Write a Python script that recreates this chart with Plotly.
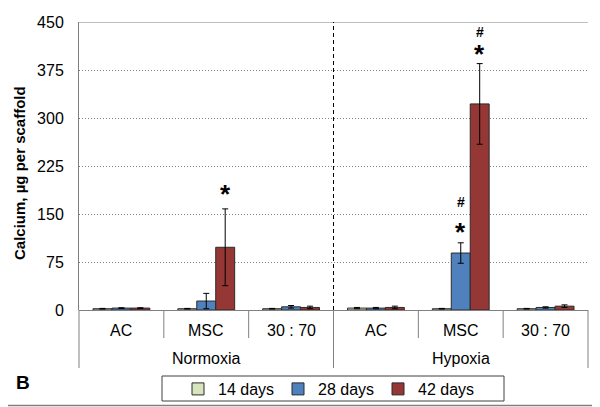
import plotly.graph_objects as go

categories = ["AC", "MSC", "30 : 70", "AC", "MSC", "30 : 70"]
groups = ["Normoxia", "Hypoxia"]
series_names = ["14 days", "28 days", "42 days"]
vals_14 = [2, 2, 2, 3, 2, 2]
vals_28 = [3, 14, 5, 3, 89, 4]
vals_42 = [3, 98, 4, 4, 322, 6]
err_14 = [0.5, 0.5, 0.5, 1, 0.5, 0.5]
err_28 = [0.5, 12, 2, 1, 16, 1]
err_42 = [0.5, 60, 2, 2, 63, 2]
# significance markers: (category index, series index, symbol, value position)
marks = [(1, 2, "*", 184), (4, 1, "*", 125), (4, 1, "#", 169), (4, 2, "*", 403), (4, 2, "#", 434)]
y_ticks = [0, 75, 150, 225, 300, 375, 450]

colors = ["#D7E4BD", "#4F81BD", "#953735"]
bargap = 0.33
n = len(categories)
xs = list(range(n))

fig = go.Figure()
for name, vals, errs, col in zip(series_names, [vals_14, vals_28, vals_42], [err_14, err_28, err_42], colors):
    fig.add_trace(go.Bar(
        x=xs, y=vals, name=name,
        marker=dict(color=col, line=dict(color="#2b2b2b", width=1)),
        error_y=dict(type="data", array=errs, color="black", thickness=1, width=3),
    ))

font = "Liberation Sans, Arial, sans-serif"
OFF = 8  # page body margin of the html page
PAGE_W, PAGE_H = 600, 407
W, H = PAGE_W - OFF, PAGE_H - OFF
# plot area in page pixels
PL, PR, PT, PB = 79, 588, 22, 310
L, T = PL - OFF, PT - OFF
R, B = W - (PR - OFF), H - (PB - OFF)
pw, ph = W - L - R, H - T - B


def px_x(p):
    return (p - OFF - L) / pw


def px_y(p):
    return (T + ph - (p - OFF)) / ph


shapes = []
ann = []
# top border line
shapes.append(dict(type="line", xref="paper", yref="y", x0=0, x1=1, y0=450, y1=450,
                   line=dict(color="#808080", width=1)))
# dashed divider between groups
shapes.append(dict(type="line", xref="x", yref="y", x0=2.5, x1=2.5, y0=0, y1=450,
                   line=dict(color="black", width=1, dash="4px,3px")))
# category separators below axis
for i in range(n + 1):
    xp = i / n
    long_ = (i % 3 == 0)
    y1 = -(58 if long_ else 28) / ph
    shapes.append(dict(type="line", xref="paper", yref="paper", x0=xp, x1=xp, y0=0, y1=y1,
                       line=dict(color="#808080", width=1)))
# bottom line of figure
shapes.append(dict(type="line", xref="paper", yref="paper", x0=px_x(0), x1=px_x(PAGE_W),
                   y0=px_y(405.5), y1=px_y(405.5), line=dict(color="#808080", width=1.5)))
# legend frame
shapes.append(dict(type="rect", xref="paper", yref="paper", x0=px_x(162), x1=px_x(504),
                   y0=px_y(376), y1=px_y(401), line=dict(color="#404040", width=1)))

for i, c in enumerate(categories):
    ann.append(dict(x=i, y=px_y(330), xref="x", yref="paper", text=c, showarrow=False,
                    font=dict(size=16, color="black", family=font), yanchor="middle"))
for g, gname in enumerate(groups):
    ann.append(dict(x=g * 3 + 1, y=px_y(358), xref="x", yref="paper", text=gname, showarrow=False,
                    font=dict(size=16, color="black", family=font), yanchor="middle"))

barw = (1 - bargap) / 3
for ci, si, sym, yv in marks:
    xpos = ci + (si - 1) * barw
    if sym == "*":
        ann.append(dict(x=xpos, y=yv, xref="x", yref="y", text="<b>*</b>", showarrow=False,
                        font=dict(size=26, color="black", family=font), yanchor="middle", yshift=-2))
    else:
        ann.append(dict(x=xpos, y=yv, xref="x", yref="y", text="<b>#</b>", showarrow=False,
                        font=dict(size=14, color="black", family=font), yanchor="middle"))

ann.append(dict(x=px_x(14), y=px_y(382), xref="paper", yref="paper", text="<b>B</b>", showarrow=False,
                font=dict(size=19, color="black", family=font), xanchor="left", yanchor="middle"))
ann.append(dict(x=px_x(19), y=px_y(173), xref="paper", yref="paper",
                text="<b>Calcium, µg per scaffold</b>", showarrow=False, textangle=-90,
                font=dict(size=15, color="black", family=font), xanchor="center", yanchor="middle"))

fig.update_layout(
    width=W, height=H,
    margin=dict(l=L, r=R, t=T, b=B, autoexpand=False),
    plot_bgcolor="white", paper_bgcolor="white",
    barmode="group", bargap=bargap, bargroupgap=0,
    font=dict(family=font, color="black"),
    xaxis=dict(range=[-0.5, n - 0.5], showticklabels=False, ticks="", showgrid=False,
               zeroline=False, showline=False, automargin=False),
    yaxis=dict(range=[0, 450], tickvals=y_ticks, ticktext=[str(t) for t in y_ticks],
               tickfont=dict(size=16, family=font), ticks="", ticklen=0, ticklabelstandoff=11,
               showline=True, linecolor="#808080", linewidth=1, automargin=False,
               showgrid=True, gridcolor="#808080", griddash="1px,2px", gridwidth=1,
               zeroline=True, zerolinecolor="#808080", zerolinewidth=1),
    legend=dict(orientation="h", x=px_x(328), xanchor="center", y=px_y(389), yanchor="middle",
                borderwidth=0, font=dict(size=16, family=font), bgcolor="rgba(0,0,0,0)",
                itemwidth=30, entrywidth=55, traceorder="normal", tracegroupgap=0),
    shapes=shapes, annotations=ann,
    showlegend=True,
)

fig.write_html("out.html")
